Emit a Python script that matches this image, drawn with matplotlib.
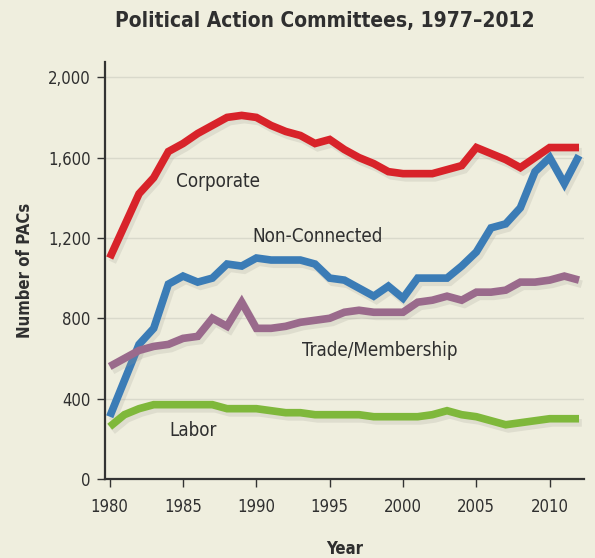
import numpy as np
import matplotlib
matplotlib.use("Agg")
from matplotlib import pyplot as plt
import matplotlib.patheffects as pe
from matplotlib import font_manager

# Data (number of PACs per year)
years = list(range(1980, 2013))
corporate = [1100, 1260, 1420, 1500, 1630, 1670, 1720, 1760, 1800, 1810, 1800,
             1760, 1730, 1710, 1670, 1690, 1640, 1600, 1570, 1530, 1520,
             1520, 1520, 1540, 1560, 1650, 1620, 1590, 1550, 1600, 1650,
             1650, 1650]
non_connected = [310, 490, 670, 750, 970, 1010, 980, 1000, 1070, 1060, 1100,
                 1090, 1090, 1090, 1070, 1000, 990, 950, 910, 960, 900,
                 1000, 1000, 1000, 1060, 1130, 1250, 1270, 1350, 1530, 1600,
                 1470, 1610]
trade = [560, 600, 640, 660, 670, 700, 710, 800, 760, 880, 750,
         750, 760, 780, 790, 800, 830, 840, 830, 830, 830,
         880, 890, 910, 890, 930, 930, 940, 980, 980, 990,
         1010, 990]
labor = [260, 320, 350, 370, 370, 370, 370, 370, 350, 350, 350,
         340, 330, 330, 320, 320, 320, 320, 310, 310, 310,
         310, 320, 340, 320, 310, 290, 270, 280, 290, 300,
         300, 300]

series_names = ["Corporate", "Non-Connected", "Trade/Membership", "Labor"]
series_colors = ["#d8232a", "#3b7cb6", "#9a6a8c", "#7fb83b"]
label_pos = [(1984.5, 1480), (1989.7, 1205), (1993.1, 642), (1984.1, 240)]

x_ticks = [1980, 1985, 1990, 1995, 2000, 2005, 2010]
y_ticks = [0, 400, 800, 1200, 1600, 2000]

# condensed face if one is available
names = {f.name for f in font_manager.fontManager.ttflist}
if "Liberation Sans Narrow" in names:
    plt.rcParams['font.family'] = ['Liberation Sans Narrow', 'DejaVu Sans']
    plt.rcParams['font.stretch'] = "normal"
else:
    plt.rcParams['font.family'] = ['DejaVu Sans']
    plt.rcParams['font.stretch'] = "condensed"

bg = "#efeede"
text_col = "#2f2f2f"

fig = plt.figure(figsize=(5.95, 5.58), dpi=100, facecolor=bg)
ax = fig.add_axes([0.176, 0.1416, 0.806, 0.747])
ax.set_facecolor(bg)

for yv in y_ticks[1:]:
    ax.axhline(yv, color="#d9d9cb", lw=1.0, zorder=1)

shadow = [pe.SimpleLineShadow(offset=(2, -3), shadow_color="#9a9a90", alpha=0.2),
          pe.Normal()]
for vals, name, col, pos in zip([corporate, non_connected, trade, labor],
                                series_names, series_colors, label_pos):
    ax.plot(years, vals, color=col, lw=5.5, solid_joinstyle="miter",
            solid_capstyle="butt", path_effects=shadow, zorder=3)
    ax.text(pos[0], pos[1], name, fontsize=13.5, color=text_col,
            va="center", ha="left", zorder=4)

ax.set_xlim(1979.66, 2012.36)
ax.set_ylim(0, 2075)
ax.set_xticks(x_ticks)
ax.set_yticks(y_ticks)
ax.set_yticklabels([f"{v:,}" for v in y_ticks])
ax.tick_params(axis="both", direction="out", length=6, width=1,
               colors="#333333", labelsize=12, labelcolor=text_col, pad=4)
ax.tick_params(axis="x", pad=8)
for s in ["top", "right"]:
    ax.spines[s].set_visible(False)
for s in ["left", "bottom"]:
    ax.spines[s].set_linewidth(1.6)
    ax.spines[s].set_color("#333333")

ax.set_xlabel("Year", fontsize=12, fontweight="bold", color=text_col, labelpad=17)
ax.set_ylabel("Number of PACs", fontsize=12, fontweight="bold", color=text_col,
              labelpad=10)
fig.text(0.546, 0.962, "Political Action Committees, 1977\u20132012",
         fontsize=15, fontweight="bold", color=text_col, ha="center", va="center")

fig.savefig("out.png", dpi=100, facecolor=bg)
